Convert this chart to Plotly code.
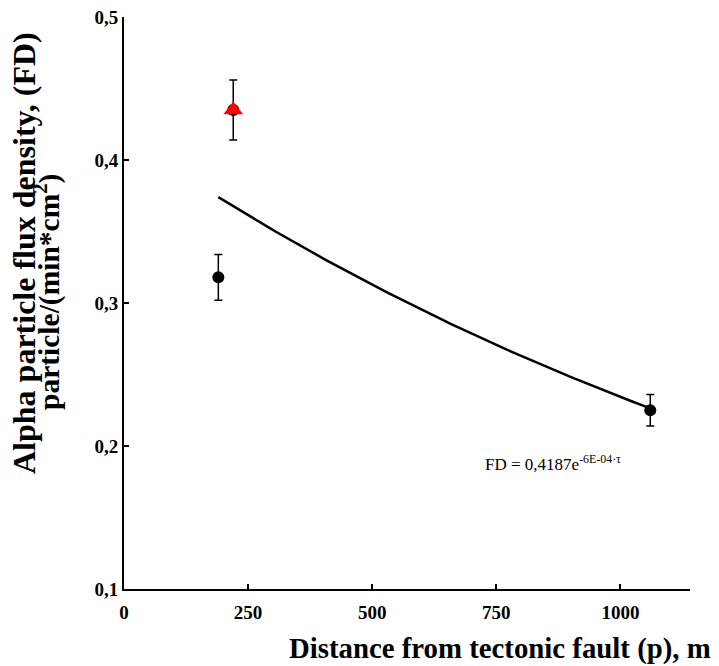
import numpy as np
import plotly.graph_objects as go

# Data
distance_m = [190, 220, 1060]
flux_density = [0.318, 0.435, 0.225]
flux_err = [0.016, 0.021, 0.011]
highlight_x = [220]
highlight_y = [0.435]

x_tickvals = [0, 250, 500, 750, 1000]
x_ticktext = ["0", "250", "500", "750", "1000"]
y_tickvals = [0.1, 0.2, 0.3, 0.4, 0.5]
y_ticktext = ["0,1", "0,2", "0,3", "0,4", "0,5"]

# Exponential trend fitted to the data (as the chart's trendline)
slope, intercept = np.polyfit(distance_m, np.log(flux_density), 1)
fit_x = np.linspace(min(distance_m), max(distance_m), 100)
fit_y = np.exp(intercept) * np.exp(slope * fit_x)

serif = "Liberation Serif, Times New Roman, serif"

# page body has an 8px default margin; compensate so the figure sits like the reference
W, H = 711, 658
ML, MT, MR, MB = 116, 9, 29, 77

fig = go.Figure()
fig.add_trace(go.Scatter(
    x=fit_x, y=fit_y, mode="lines",
    line=dict(color="black", width=2.5), showlegend=False, hoverinfo="skip"))
fig.add_trace(go.Scatter(
    x=distance_m, y=flux_density, mode="markers",
    marker=dict(color="black", size=12, symbol="circle"),
    error_y=dict(type="data", array=flux_err, color="black", thickness=1.5, width=4),
    showlegend=False))
fig.add_trace(go.Scatter(
    x=highlight_x, y=highlight_y, mode="markers",
    marker=dict(color="#ff0000", size=17, symbol="triangle-up"),
    showlegend=False))

fig.add_annotation(
    x=724, y=0.188, xref="x", yref="y", xanchor="left", yanchor="middle",
    text="FD = 0,4187e<sup>-6E-04·τ</sup>", showarrow=False,
    font=dict(family=serif, size=17, color="black"))

# axis titles
fig.add_annotation(
    xref="paper", yref="paper", x=0.664, y=0, xanchor="center", yanchor="middle",
    yshift=-59, showarrow=False,
    text="<b>Distance from tectonic fault (p), m</b>",
    font=dict(family=serif, size=28.8, color="black"))
fig.add_annotation(
    xref="paper", yref="paper", x=0, y=1, xanchor="center", yanchor="middle",
    xshift=-100, yshift=-236, textangle=-90, showarrow=False, borderpad=0,
    text="<b>Alpha particle flux density, (FD)</b>",
    font=dict(family=serif, size=32, color="black"))
fig.add_annotation(
    xref="paper", yref="paper", x=0, y=1, xanchor="center", yanchor="middle",
    xshift=-77, yshift=-275, textangle=-90, showarrow=False, borderpad=0,
    text="<b>particle/(min*cm<sup>2</sup>)</b>",
    font=dict(family=serif, size=29.5, color="black"))

fig.update_layout(
    width=W, height=H,
    margin=dict(l=ML, r=MR, t=MT, b=MB, autoexpand=False),
    paper_bgcolor="white", plot_bgcolor="white",
    font=dict(family=serif, color="black"),
    xaxis=dict(
        range=[0, 1140], tickvals=x_tickvals, ticktext=x_ticktext,
        showgrid=False, zeroline=False, showline=True, linecolor="black", linewidth=2,
        ticks="inside", ticklen=5, tickwidth=2, tickcolor="black",
        tickfont=dict(family=serif, size=19, color="black", weight="bold"),
        ticklabelstandoff=5, automargin=False, ticklabeloverflow="allow",
    ),
    yaxis=dict(
        range=[0.1, 0.5], tickvals=y_tickvals, ticktext=y_ticktext,
        showgrid=False, zeroline=False, showline=True, linecolor="black", linewidth=2,
        ticks="inside", ticklen=5, tickwidth=2, tickcolor="black",
        tickfont=dict(family=serif, size=19, color="black", weight="bold"),
        ticklabelstandoff=0, automargin=False, ticklabeloverflow="allow",
    ),
)

fig.write_html("out.html")
